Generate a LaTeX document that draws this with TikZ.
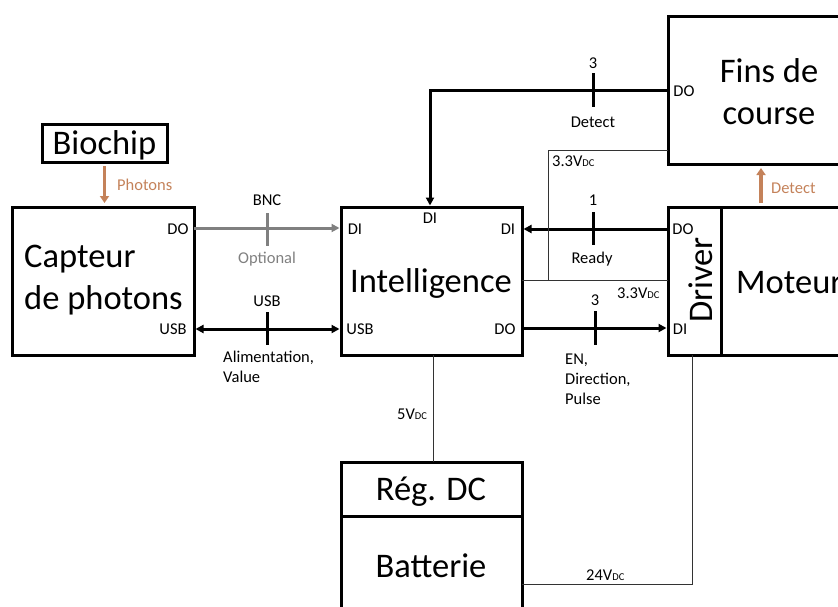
\documentclass[tikz,border=0pt]{standalone}
\usepackage{fontspec}
\setmainfont{Carlito}
\usetikzlibrary{arrows.meta}
\definecolor{brn}{RGB}{196,130,90}
\definecolor{gry}{RGB}{128,128,128}
\newcommand{\myvdc}{V{\fontsize{10.5}{10.5}\selectfont DC}}
\begin{document}
\begin{tikzpicture}[x=1pt,y=-1pt,
  box/.style={draw,line width=3pt,inner sep=0pt,outer sep=0pt},
  big/.style={font=\fontsize{34.5}{42}\selectfont,inner sep=0pt},
  lbl/.style={font=\fontsize{16.5}{20}\selectfont,inner sep=0pt},
  bus/.style={line width=3pt},
  thinw/.style={line width=0.8pt,draw=black!80},
  tip/.style={-{Triangle[length=8pt,width=8pt]},shorten >=1.5pt},
  dtip/.style={{Triangle[length=8pt,width=8pt]}-{Triangle[length=8pt,width=8pt]},shorten >=1.5pt,shorten <=1.5pt},
  ptip/.style={-{Triangle[length=7pt,width=9pt]},line width=3.5pt,draw=brn,shorten <=4pt,shorten >=4pt},
]
\useasboundingbox (0,0) rectangle (838,606);
\clip (0,0) rectangle (838,606);
% boxes
\node[box,minimum width=125,minimum height=38] (bio) at (104.5,143) {};
\node[box,minimum width=182,minimum height=148] (cap) at (103,281) {};
\node[box,minimum width=181,minimum height=148] (int) at (431.5,281) {};
\node[box,minimum width=232,minimum height=148] (fins) at (784,90) {};
\node[box,minimum width=53,minimum height=148] (drv) at (694.5,281) {};
\node[box,minimum width=179,minimum height=148] (mot) at (810.5,281) {};
\node[box,minimum width=181,minimum height=54] (reg) at (431.5,489) {};
\node[box,minimum width=181,minimum height=144] (batt) at (431.5,588) {};
% big texts
\node[big] (biot) at (104.5,145) {Biochip};
\node[big,align=left,anchor=west] (capt) at (24,280) {Capteur\\de photons};
\node[big] (intt) at (431,283) {Intelligence};
\node[big,align=center] (finst) at (769,92) {Fins de\\course};
\node[big,rotate=90] (drvt) at (701,280) {Driver};
\node[big,anchor=west] (mott) at (736,283) {Moteur};
\node[big] (regt) at (431,492) {Rég. DC};
\node[big] (battt) at (431,566) {Batterie};
% port labels
\node[lbl] (capdo) at (178,229) {DO};
\node[lbl] (capusb) at (173,329) {USB};
\node[lbl] (intdil) at (355,229) {DI};
\node[lbl] (intdi) at (430,218) {DI};
\node[lbl] (intdir) at (508,229) {DI};
\node[lbl] (intusb) at (360,329) {USB};
\node[lbl] (intdo) at (505,329) {DO};
\node[lbl] (finsdo) at (684,91) {DO};
\node[lbl] (drvdo) at (683,229) {DO};
\node[lbl] (drvdi) at (680,329) {DI};
% connector labels
\node[lbl,text=brn,anchor=west] (phot) at (117,185) {Photons};
\node[lbl,text=brn,anchor=west] (detb) at (771,188) {Detect};
\node[lbl] (bnc) at (267,200) {BNC};
\node[lbl,text=gry] (opt) at (267,259) {Optional};
\node[lbl] (usbl) at (267,301) {USB};
\node[lbl,align=left,anchor=north west] (alim) at (223,351) {Alimentation,\\Value};
\node[lbl] (n3a) at (593,63) {3};
\node[lbl] (det) at (593,122) {Detect};
\node[lbl] (n1) at (593,200) {1};
\node[lbl] (rdy) at (592,259) {Ready};
\node[lbl] (n3b) at (595,300) {3};
\node[lbl,align=left,anchor=north west] (en) at (565,354) {EN,\\Direction,\\Pulse};
\node[lbl,anchor=west] (v33a) at (552,161) {3.3\myvdc};
\node[lbl,anchor=west] (v33b) at (617,293) {3.3\myvdc};
\node[lbl,anchor=west] (v5) at (397,414) {5\myvdc};
\node[lbl,anchor=west] (v24) at (586,575) {24\myvdc};
% coordinates
\coordinate (j33) at (548,280);
\coordinate (f33) at (600,150);
\coordinate (b24) at (600,584);
\coordinate (dx) at (761,185);
% connectors
\draw[ptip] (bio.south) -- (cap.north -| bio.south);
\draw[ptip] (mot.north -| dx) -- (fins.south -| dx);
\draw[bus,gry,tip] (cap.east |- 0,228) -- (int.west |- 0,228);
\draw[bus,dtip] (cap.east |- 0,329) -- (int.west |- 0,329);
\draw[bus,tip] (fins.west |- 0,90) -| (int.north -| intdi);
\draw[bus,tip] (drv.west |- 0,229) -- (int.east |- 0,229);
\draw[bus,tip] (int.east |- 0,328) -- (drv.west |- 0,328);
\draw[thinw] (int.east |- j33) -- (drv.west |- j33);
\draw[thinw] (j33) |- (fins.west |- f33);
\draw[thinw] ([xshift=1.5pt]int.south) -- ([xshift=1.5pt]reg.north);
\draw[thinw] (batt.east |- b24) -| ([xshift=-2.5pt]drv.south);
% ticks
\draw[bus,gry] (267,213) -- (267,246);
\draw[bus] (267,312) -- (267,345);
\draw[bus] (593,73) -- (593,107);
\draw[bus] (593,212) -- (593,245);
\draw[bus] (595,311) -- (595,345);
\end{tikzpicture}
\end{document}
